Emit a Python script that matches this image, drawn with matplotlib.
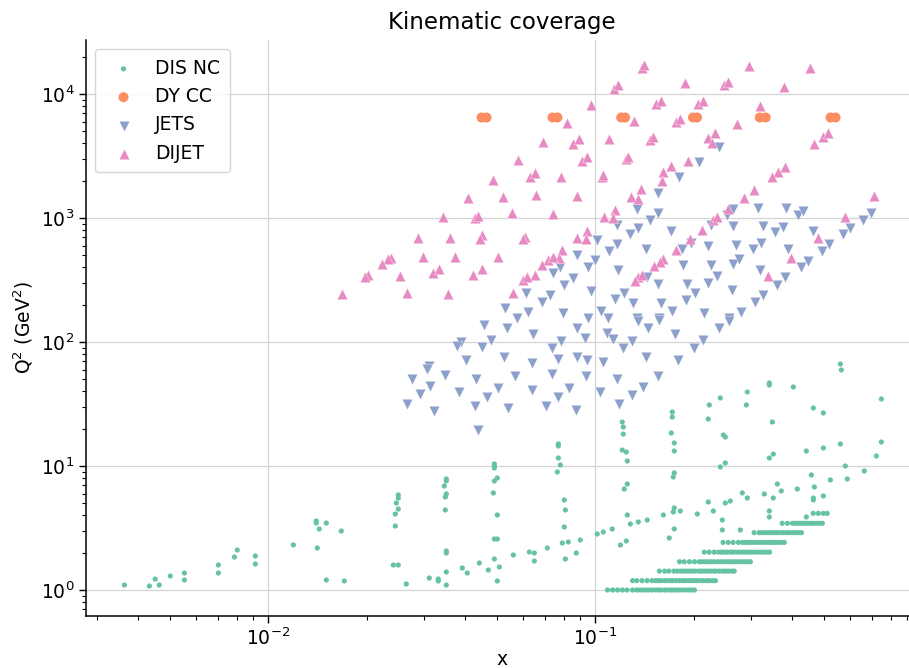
import matplotlib
matplotlib.use("Agg")
import matplotlib.pyplot as plt

# ---------------- DIS NC : scattered points ----------------
dis_x = [
    0.00363, 0.00433, 0.00451, 0.00464, 0.00502, 0.00554, 0.00554, 0.00704, 0.00704, 0.00788,
    0.00804, 0.00913, 0.00913, 0.01193, 0.01402, 0.01402, 0.01432, 0.01505, 0.01412, 0.01505,
    0.01672, 0.01708, 0.02412, 0.02498, 0.02643, 0.02446, 0.02446, 0.02498, 0.02464, 0.02498,
    0.02498, 0.03108, 0.03311, 0.03311, 0.03503, 0.03503, 0.03503, 0.03503, 0.03479, 0.03479,
    0.03503, 0.03454, 0.03503, 0.03503, 0.03921, 0.04061, 0.0442, 0.04709, 0.04913, 0.05017,
    0.05088, 0.04913, 0.05017, 0.05017, 0.04878, 0.04913, 0.05017, 0.04913, 0.04913, 0.04913,
    0.05616, 0.06286, 0.06511, 0.06511, 0.07135, 0.0771, 0.0771, 0.0771, 0.0782, 0.07655,
    0.0804, 0.0810, 0.0804, 0.0793, 0.0827, 0.0810, 0.0875, 0.0900, 0.1014, 0.1058,
    0.1127, 0.1209, 0.1218, 0.1218, 0.1209, 0.1244, 0.1253, 0.1253, 0.1227, 0.1253,
    0.1280, 0.1354, 0.1442, 0.1244, 0.1193, 0.1615, 0.1684, 0.1744, 0.1720, 0.1720,
    0.1708, 0.1744, 0.1744, 0.1744, 0.1732, 0.1744, 0.1732, 0.1820, 0.2051, 0.2216,
    0.2296, 0.2232, 0.2216, 0.2412, 0.2464, 0.2498, 0.2498, 0.2412, 0.2498, 0.2588,
    0.2446, 0.2446, 0.2777, 0.2816, 0.2917, 0.2917, 0.2897, 0.3406, 0.3406, 0.4033,
    0.3479, 0.3406, 0.3503, 0.3288, 0.3503, 0.3603, 0.3706, 0.3406, 0.3406, 0.4148,
    0.4420, 0.4644, 0.4982, 0.4982, 0.5616, 0.4579, 0.4676, 0.4644, 0.4644, 0.4982,
    0.4420, 0.5234, 0.5817, 0.5899, 0.6649, 0.7236, 0.7496, 0.7496, 0.5616, 0.5656,
]
dis_q2 = [
    1.097, 1.077, 1.226, 1.097, 1.297, 1.371, 1.204, 1.591, 1.371, 1.845,
    2.10, 1.88, 1.62, 2.31, 3.60, 3.47, 3.105, 3.47, 2.18, 1.204,
    2.99, 1.182, 1.591, 1.591, 1.118, 3.28, 4.10, 4.50, 5.03, 5.52,
    5.84, 1.249, 1.226, 1.182, 1.097, 1.397, 1.988, 2.063, 4.418, 5.625,
    5.948, 6.90, 7.573, 7.858, 1.5045, 1.371, 1.651, 1.45, 1.778, 1.182,
    1.533, 2.578, 2.578, 4.027, 6.06, 7.573, 8.006, 9.64, 10.0, 10.38,
    1.915, 2.025, 1.988, 1.713, 2.181, 14.50, 15.05, 11.60, 10.19, 8.95,
    5.32, 4.418, 3.222, 2.393, 2.438, 1.778, 1.988, 2.531, 2.829, 2.936,
    3.105, 22.64, 20.63, 18.1, 13.46, 12.97, 10.97, 7.16, 6.527, 4.027,
    3.407, 3.536, 3.669, 2.484, 2.306, 4.027, 2.627, 3.105, 27.26, 24.84,
    18.46, 15.33, 13.21, 8.786, 8.155, 4.586, 4.257, 4.337, 4.102, 5.126,
    4.337, 31.05, 23.93, 35.36, 17.78, 17.13, 10.57, 9.82, 5.03, 5.22,
    3.669, 3.047, 3.047, 6.06, 5.52, 39.52, 31.05, 45.0, 46.7, 43.37,
    22.64, 11.60, 12.49, 5.948, 5.52, 7.16, 6.289, 4.337, 3.88, 6.527,
    13.21, 29.36, 26.76, 13.97, 15.05, 8.465, 6.775, 5.52, 5.32, 5.73,
    3.88, 7.714, 10.0, 7.858, 9.12, 12.04, 15.61, 34.70, 66.5, 59.5,
]

# ---------------- DIS NC : fixed-Q2 rows at high x ----------------
row_q2 = [1.0, 1.19, 1.42, 1.69, 2.02, 2.42, 2.9, 3.45, 4.15]
row1_x = [0.109, 0.113, 0.117, 0.121, 0.125, 0.130, 0.134, 0.137, 0.140, 0.143, 0.146,
          0.149, 0.153, 0.156, 0.159, 0.163, 0.166, 0.170, 0.173, 0.177, 0.181, 0.185,
          0.189, 0.193, 0.197, 0.201]
row2_x = [0.130, 0.134, 0.139, 0.144, 0.149, 0.153, 0.156, 0.159, 0.163, 0.166, 0.170,
          0.173, 0.177, 0.181, 0.185, 0.189, 0.193, 0.197, 0.201, 0.205, 0.2095, 0.214,
          0.219, 0.223, 0.228, 0.233]
row3_x = [0.157, 0.163, 0.168, 0.174, 0.178, 0.182, 0.186, 0.190, 0.194, 0.198, 0.202,
          0.207, 0.211, 0.2155, 0.220, 0.225, 0.230, 0.234, 0.2395, 0.245, 0.250, 0.255,
          0.261, 0.266]
row4_x = [0.181, 0.187, 0.194, 0.201, 0.208, 0.2125, 0.217, 0.2216, 0.2264, 0.231, 0.236,
          0.241, 0.246, 0.252, 0.257, 0.262, 0.268, 0.274, 0.280, 0.286, 0.292, 0.298]
row5_x = [0.2155, 0.223, 0.231, 0.238, 0.243, 0.248, 0.253, 0.259, 0.264, 0.270, 0.276,
          0.282, 0.288, 0.294, 0.300, 0.306, 0.313, 0.320, 0.327, 0.334, 0.341]
row6_x = [0.246, 0.255, 0.264, 0.274, 0.282, 0.288, 0.294, 0.300, 0.306, 0.313, 0.320,
          0.327, 0.334, 0.341, 0.348, 0.355, 0.363, 0.371, 0.3785]
row7_x = [0.306, 0.317, 0.324, 0.331, 0.338, 0.345, 0.353, 0.360, 0.368, 0.376, 0.384,
          0.392, 0.401, 0.409, 0.418, 0.427]
row8_x = [0.373, 0.387, 0.401, 0.409, 0.418, 0.427, 0.436, 0.445, 0.455, 0.464, 0.474,
          0.484, 0.495]
row9_x = [0.464, 0.481, 0.498, 0.512]
rows_x = [row1_x, row2_x, row3_x, row4_x, row5_x, row6_x, row7_x, row8_x, row9_x]

# ---------------- DY CC ----------------
dy_x = [0.0449, 0.0465, 0.0740, 0.0766, 0.120, 0.1234, 0.199, 0.2047, 0.3185, 0.332, 0.524, 0.543]
dy_q2 = [6464] * len(dy_x)

# ---------------- JETS ----------------
jets_x = [
    0.2395, 0.208, 0.1807, 0.1559, 0.1344, 0.1559, 0.1473, 0.1168, 0.1354, 0.128,
    0.1014, 0.1708, 0.1168, 0.1104, 0.0881, 0.1000, 0.0782, 0.0952, 0.0744, 0.0857,
    0.0804, 0.0729, 0.0615, 0.0689, 0.0531, 0.0624, 0.0578, 0.0799, 0.0973, 0.0952,
    0.1043, 0.1096, 0.1151, 0.1227, 0.1176, 0.1307, 0.1432, 0.1442, 0.1559, 0.1344,
    0.1592, 0.157, 0.172, 0.1859, 0.1846, 0.1966, 0.2216, 0.2264, 0.2361, 0.1912,
    0.2022, 0.1898, 0.2216, 0.2155, 0.257, 0.2796, 0.2625, 0.2643, 0.2757, 0.270,
    0.3043, 0.3219, 0.2643, 0.2534, 0.2643, 0.2264, 0.3152, 0.3265, 0.3553, 0.3759,
    0.3839, 0.4178, 0.4328, 0.3894, 0.3197, 0.3603, 0.3812, 0.3265, 0.3086, 0.4267,
    0.4483, 0.4644, 0.4947, 0.5197, 0.5736, 0.6026, 0.6604, 0.6986,
    0.0458, 0.0538, 0.0647, 0.0881, 0.0481, 0.0389, 0.0379, 0.0451, 0.0787, 0.0739,
    0.0933, 0.1088, 0.1135, 0.1218, 0.1298, 0.1354, 0.1453, 0.157, 0.1757, 0.2395,
    0.257, 0.214, 0.2008, 0.1794, 0.1432, 0.1559, 0.1402, 0.1298, 0.1184, 0.1168,
    0.1058, 0.1036, 0.0946, 0.0881, 0.0939, 0.0833, 0.0771, 0.0875, 0.0771, 0.0739,
    0.0642, 0.0642, 0.0570, 0.0709, 0.0542, 0.0527, 0.0505, 0.0468, 0.0433, 0.0430,
    0.0439, 0.0403, 0.0384, 0.0348, 0.0322, 0.0311, 0.0306, 0.0313, 0.0292, 0.0276,
    0.0266,
]
jets_q2 = [
    3738, 2829, 2141, 1591, 1182, 1097, 964, 879, 831, 743,
    665, 786, 617, 542, 503, 459, 403, 403, 360, 328,
    288, 239, 248, 210, 188, 175, 156, 171, 256, 156,
    178, 156, 222, 248, 381, 206, 563, 334, 294, 156,
    206, 156, 178, 418, 563, 629, 595, 418, 341, 294,
    248, 218, 299, 171, 156, 175, 263, 426, 467, 606,
    563, 629, 862, 1057, 1182, 879, 1204, 862, 771, 847,
    1204, 1057, 1139, 563, 381, 288, 334, 239, 210, 403,
    450, 786, 542, 617, 743, 831, 964, 1097,
    137, 130, 116, 130, 104, 100, 92.9, 91.2, 102, 89.5,
    108, 118, 106, 89.5, 102, 148, 130, 150, 116, 130,
    148, 104, 89.5, 71.6, 75.7, 53.2, 43.4, 37.4, 31.6, 50.3,
    69.0, 39.5, 71.6, 75.7, 53.2, 42.6, 36.0, 28.3, 73.0, 55.2,
    67.7, 41.0, 53.2, 30.5, 29.4, 75.7, 42.6, 36.0, 50.3, 30.5,
    19.5, 71.6, 39.5, 54.2, 27.8, 64.1, 60.6, 44.2, 38.1, 50.3,
    31.6,
]

# ---------------- DIJET ----------------
dijet_x = [
    0.0488, 0.0409, 0.0523, 0.0343, 0.0430, 0.0439, 0.0286, 0.0360, 0.0451, 0.0445,
    0.0238, 0.0233, 0.0298, 0.0373, 0.0505, 0.0222, 0.0202, 0.0198, 0.0252, 0.0320,
    0.0333, 0.0424, 0.0451, 0.0168, 0.0266, 0.0355,
    0.139, 0.141, 0.296, 0.455, 0.1143, 0.1176, 0.1885, 0.248, 0.255, 0.3785,
    0.0973, 0.1537, 0.159, 0.2066, 0.214, 0.320, 0.0821, 0.1316, 0.177, 0.181,
    0.272, 0.0694, 0.0857, 0.0894, 0.1104, 0.1473, 0.1505, 0.2216, 0.2328, 0.228,
    0.4676, 0.498, 0.516, 0.0582, 0.0913, 0.0946, 0.1244, 0.1262, 0.1925, 0.0633,
    0.0656, 0.0787, 0.1051, 0.1058, 0.1615, 0.1708, 0.1603, 0.0660, 0.0881, 0.1289,
    0.1383, 0.1354, 0.3064, 0.3812, 0.3629, 0.3479, 0.2856, 0.7135, 0.0558, 0.0744,
    0.1066, 0.1151, 0.1135, 0.2552, 0.2296, 0.2361, 0.5817, 0.0611, 0.0603, 0.0881,
    0.0946, 0.0939, 0.2125, 0.1953, 0.481, 0.0793, 0.0776, 0.0719, 0.0744, 0.0689,
    0.0656, 0.0603, 0.0620, 0.0562, 0.1615, 0.1581, 0.1769, 0.1515, 0.1354, 0.1325,
    0.1393, 0.3977, 0.3382,
]
dijet_q2 = [
    2030, 1450, 1480, 1019, 1000, 1038, 690, 690, 730, 677,
    476, 467, 485, 485, 485, 426, 347, 334, 341, 360,
    388, 347, 388, 244, 248, 244,
    16300, 17100, 16800, 16200, 10970, 11820, 12260, 11820, 12490, 11390,
    8155, 8309, 8786, 8309, 8786, 8006, 5838, 6060, 5948, 6290,
    5731, 4102, 3952, 4337, 4337, 4257, 4500, 4418, 4848, 4027,
    3952, 4500, 4848, 2936, 2882, 3105, 2991, 3105, 2882, 2141,
    2306, 2141, 2141, 2222, 2350, 2627, 1988, 1533, 1505, 1477,
    1713, 1423, 1682, 2578, 2350, 2141, 1450, 1505, 1097, 1077,
    1019, 1160, 1000, 1182, 964, 1019, 1019, 703, 678, 690,
    786, 678, 801, 678, 690, 552, 476, 459, 485, 418,
    347, 316, 334, 248, 467, 442, 552, 410, 334, 311,
    347, 476, 341,
]

labels = ["DIS NC", "DY CC", "JETS", "DIJET"]
colors = ["#66c2a5", "#fc8d62", "#8da0cb", "#e78ac3"]

# combine the DIS NC scattered points with the fixed-Q2 rows
dis_all_x = list(dis_x)
dis_all_q2 = list(dis_q2)
for q2, xs in zip(row_q2, rows_x):
    dis_all_x.extend(xs)
    dis_all_q2.extend([q2] * len(xs))

fig = plt.figure(figsize=(9.09, 6.68), dpi=100)
ax = fig.add_axes([86 / 909, 52.3 / 668, 832.5 / 909, 575.7 / 668])

ax.set_xscale("log")
ax.set_yscale("log")
ax.set_axisbelow(True)
ax.grid(True, which="major", color="#d4d4d4", linewidth=0.9)

ax.scatter(dis_all_x, dis_all_q2, s=14, marker="o", color=colors[0],
           edgecolors="none", label=labels[0], zorder=3)
ax.scatter(dy_x, dy_q2, s=52, marker="o", color=colors[1],
           edgecolors="none", label=labels[1], zorder=3)
ax.scatter(jets_x, jets_q2, s=58, marker="v", color=colors[2],
           edgecolors="white", linewidths=0.25, label=labels[2], zorder=3)
ax.scatter(dijet_x, dijet_q2, s=58, marker="^", color=colors[3],
           edgecolors="white", linewidths=0.25, label=labels[3], zorder=3)

ax.set_xlim(0.002771, 0.9737)
ax.set_ylim(0.6205, 27260)

for side in ("top", "right"):
    ax.spines[side].set_visible(False)
for side in ("left", "bottom"):
    ax.spines[side].set_linewidth(1.1)

ax.tick_params(axis="both", which="major", labelsize=13.5, length=5, width=1.0)
ax.tick_params(axis="both", which="minor", length=3, width=0.8)

ax.set_xlabel("x", fontsize=13.5, labelpad=0.5)
ax.set_ylabel("Q$^2$ (GeV$^2$)", fontsize=13.5)
ax.set_title("Kinematic coverage", fontsize=16.5, pad=8)

leg = ax.legend(loc="upper left", fontsize=13.5, frameon=True, borderpad=0.5,
                handletextpad=0.7)
leg.get_frame().set_edgecolor("#cccccc")

fig.savefig("out.png", dpi=100)
